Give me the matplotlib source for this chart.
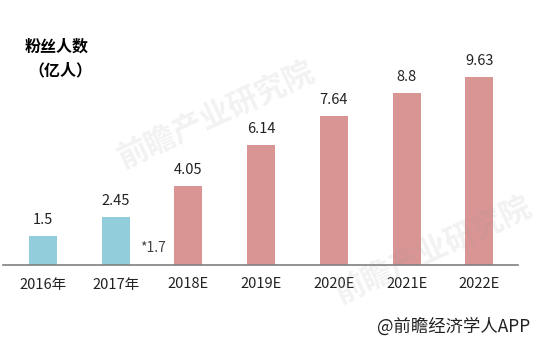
import matplotlib.pyplot as plt

plt.rcParams['font.family'] = ['Noto Sans CJK SC', 'DejaVu Sans']

years = ['2016年', '2017年', '2018E', '2019E', '2020E', '2021E', '2022E']
fans = [1.5, 2.45, 4.05, 6.14, 7.64, 8.8, 9.63]
labels = ['1.5', '2.45', '4.05', '6.14', '7.64', '8.8', '9.63']
is_actual = [True, True, False, False, False, False, False]

blue = '#92CDDC'
pink = '#D99594'

fig = plt.figure(figsize=(5.41, 3.57), dpi=100)
ax = fig.add_axes([3/541, 92/357, 515/541, 205/357])

colors = [blue if a else pink for a in is_actual]
x = list(range(len(years)))
ax.bar(x, fans, width=0.385, color=colors, edgecolor='none')

for xi, v, lab in zip(x, fans, labels):
    ax.text(xi, v + 0.45, lab, ha='center', va='bottom', fontsize=10.5, color='#222222')

# growth note next to 2017
ax.text(1.33, 0.85, '*1.7', ha='left', va='center', fontsize=10, color='#444444')

ax.set_xlim(-0.55, 6.53)
ax.set_ylim(0, 10.5)
ax.set_xticks(x)
ax.set_xticklabels(years, fontsize=10.5, color='#222222')
ax.tick_params(axis='x', length=0, pad=9)
ax.set_yticks([])
for s in ['top', 'right', 'left']:
    ax.spines[s].set_visible(False)
ax.spines['bottom'].set_color('#7F7F7F')
ax.spines['bottom'].set_linewidth(1.2)

# faint watermarks
fig.text(0.40, 0.68, '前瞻产业研究院', fontsize=22, color='#999999', alpha=0.13, rotation=25,
         ha='center', va='center', fontweight='bold')
fig.text(0.80, 0.30, '前瞻产业研究院', fontsize=22, color='#999999', alpha=0.13, rotation=25,
         ha='center', va='center', fontweight='bold')

fig.text(0.046, 0.868, '粉丝人数', fontsize=11.5, fontweight='bold', ha='left', va='center')
fig.text(0.052, 0.803, '（亿人）', fontsize=11.5, fontweight='bold', ha='left', va='center')

fig.text(0.98, 0.085, '@前瞻经济学人APP', fontsize=12.5, ha='right', va='center', color='#222222')

fig.savefig('out.png', dpi=100)
